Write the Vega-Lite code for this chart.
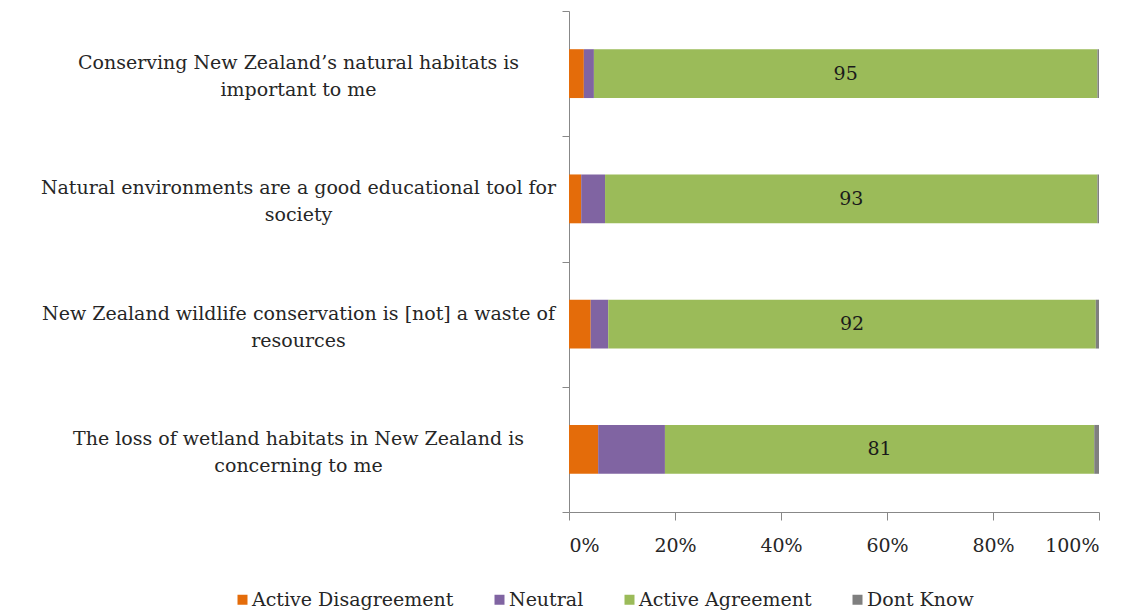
{
  "$schema": "https://vega.github.io/schema/vega-lite/v6.json",
  "width": 530,
  "height": 501,
  "autosize": {"type": "none"},
  "padding": {"left": 569, "top": 11, "right": 34, "bottom": 100},
  "background": "white",
  "config": {"view": {"stroke": null}, "font": "DejaVu Serif"},
  "data": {
    "values": [
      {"statement": "Conserving New Zealand’s natural habitats is important to me", "response": "Active Disagreement", "order": 1, "value": 2.8},
      {"statement": "Conserving New Zealand’s natural habitats is important to me", "response": "Neutral", "order": 2, "value": 1.9},
      {"statement": "Conserving New Zealand’s natural habitats is important to me", "response": "Active Agreement", "order": 3, "value": 95.0},
      {"statement": "Conserving New Zealand’s natural habitats is important to me", "response": "Dont Know", "order": 4, "value": 0.3},
      {"statement": "Natural environments are a good educational tool for society", "response": "Active Disagreement", "order": 1, "value": 2.3},
      {"statement": "Natural environments are a good educational tool for society", "response": "Neutral", "order": 2, "value": 4.5},
      {"statement": "Natural environments are a good educational tool for society", "response": "Active Agreement", "order": 3, "value": 92.9},
      {"statement": "Natural environments are a good educational tool for society", "response": "Dont Know", "order": 4, "value": 0.3},
      {"statement": "New Zealand wildlife conservation is [not] a waste of resources", "response": "Active Disagreement", "order": 1, "value": 4.1},
      {"statement": "New Zealand wildlife conservation is [not] a waste of resources", "response": "Neutral", "order": 2, "value": 3.3},
      {"statement": "New Zealand wildlife conservation is [not] a waste of resources", "response": "Active Agreement", "order": 3, "value": 92.0},
      {"statement": "New Zealand wildlife conservation is [not] a waste of resources", "response": "Dont Know", "order": 4, "value": 0.6},
      {"statement": "The loss of wetland habitats in New Zealand is concerning to me", "response": "Active Disagreement", "order": 1, "value": 5.5},
      {"statement": "The loss of wetland habitats in New Zealand is concerning to me", "response": "Neutral", "order": 2, "value": 12.6},
      {"statement": "The loss of wetland habitats in New Zealand is concerning to me", "response": "Active Agreement", "order": 3, "value": 81.0},
      {"statement": "The loss of wetland habitats in New Zealand is concerning to me", "response": "Dont Know", "order": 4, "value": 0.9}
    ]
  },
  "transform": [
    {"stack": "value", "groupby": ["statement"], "sort": [{"field": "order", "order": "ascending"}], "as": ["x0", "x1"]}
  ],
  "encoding": {
    "y": {
      "field": "statement",
      "type": "nominal",
      "sort": null,
      "title": null,
      "scale": {"paddingInner": 0, "paddingOuter": 0},
      "axis": {
        "domainColor": "#888888",
        "tickColor": "#888888",
        "tickSize": 7,
        "tickBand": "extent",
        "labelFont": "DejaVu Serif",
        "labelFontSize": 19,
        "labelColor": "#262626",
        "labelAlign": "center",
        "labelBaseline": "middle",
        "labelLineHeight": 27,
        "labelLimit": 600,
        "labelPadding": 264,
        "labelOffset": -11,
        "labelExpr": "indexof(datum.label,'Conserving')==0 ? ['Conserving New Zealand’s natural habitats is','important to me'] : indexof(datum.label,'Natural')==0 ? ['Natural environments are a good educational tool for','society'] : indexof(datum.label,'New Zealand wildlife')==0 ? ['New Zealand wildlife conservation is [not] a waste of','resources'] : indexof(datum.label,'The loss')==0 ? ['The loss of wetland habitats in New Zealand is','concerning to me'] : ''"
      }
    }
  },
  "layer": [
    {
      "mark": {"type": "bar", "height": {"band": 0.39}},
      "encoding": {
        "x": {
          "field": "x0",
          "type": "quantitative",
          "title": null,
          "scale": {"domain": [0, 100], "nice": false},
          "axis": {
            "values": [0, 20, 40, 60, 80, 100],
            "grid": false,
            "domainColor": "#888888",
            "tickColor": "#888888",
            "tickSize": 8,
            "labelFont": "DejaVu Serif",
            "labelFontSize": 19,
            "labelColor": "#262626",
            "labelPadding": 16,
            "labelExpr": "datum.label + '%'"
          }
        },
        "x2": {"field": "x1"},
        "color": {
          "field": "response",
          "type": "nominal",
          "scale": {
            "domain": ["Active Disagreement", "Neutral", "Active Agreement", "Dont Know"],
            "range": ["#E46C0A", "#8064A2", "#9BBB59", "#7F7F7F"]
          },
          "legend": {
            "title": null,
            "orient": "none",
            "direction": "horizontal",
            "legendX": -336,
            "legendY": 579,
            "symbolType": "square",
            "symbolSize": 100,
            "symbolStrokeWidth": 0,
            "labelFont": "DejaVu Serif",
            "labelFontSize": 19,
            "labelColor": "#262626",
            "labelOffset": 0,
            "columnPadding": 36,
            "labelLimit": 300
          }
        }
      }
    },
    {
      "transform": [
        {"filter": "datum.response == 'Active Agreement'"},
        {"calculate": "(datum.x0 + datum.x1) / 2", "as": "xm"}
      ],
      "mark": {"type": "text", "font": "DejaVu Serif", "fontSize": 19, "color": "#1a1a1a", "align": "center", "baseline": "middle"},
      "encoding": {
        "x": {"field": "xm", "type": "quantitative"},
        "text": {"field": "value", "type": "quantitative", "format": ".0f"}
      }
    }
  ]
}
